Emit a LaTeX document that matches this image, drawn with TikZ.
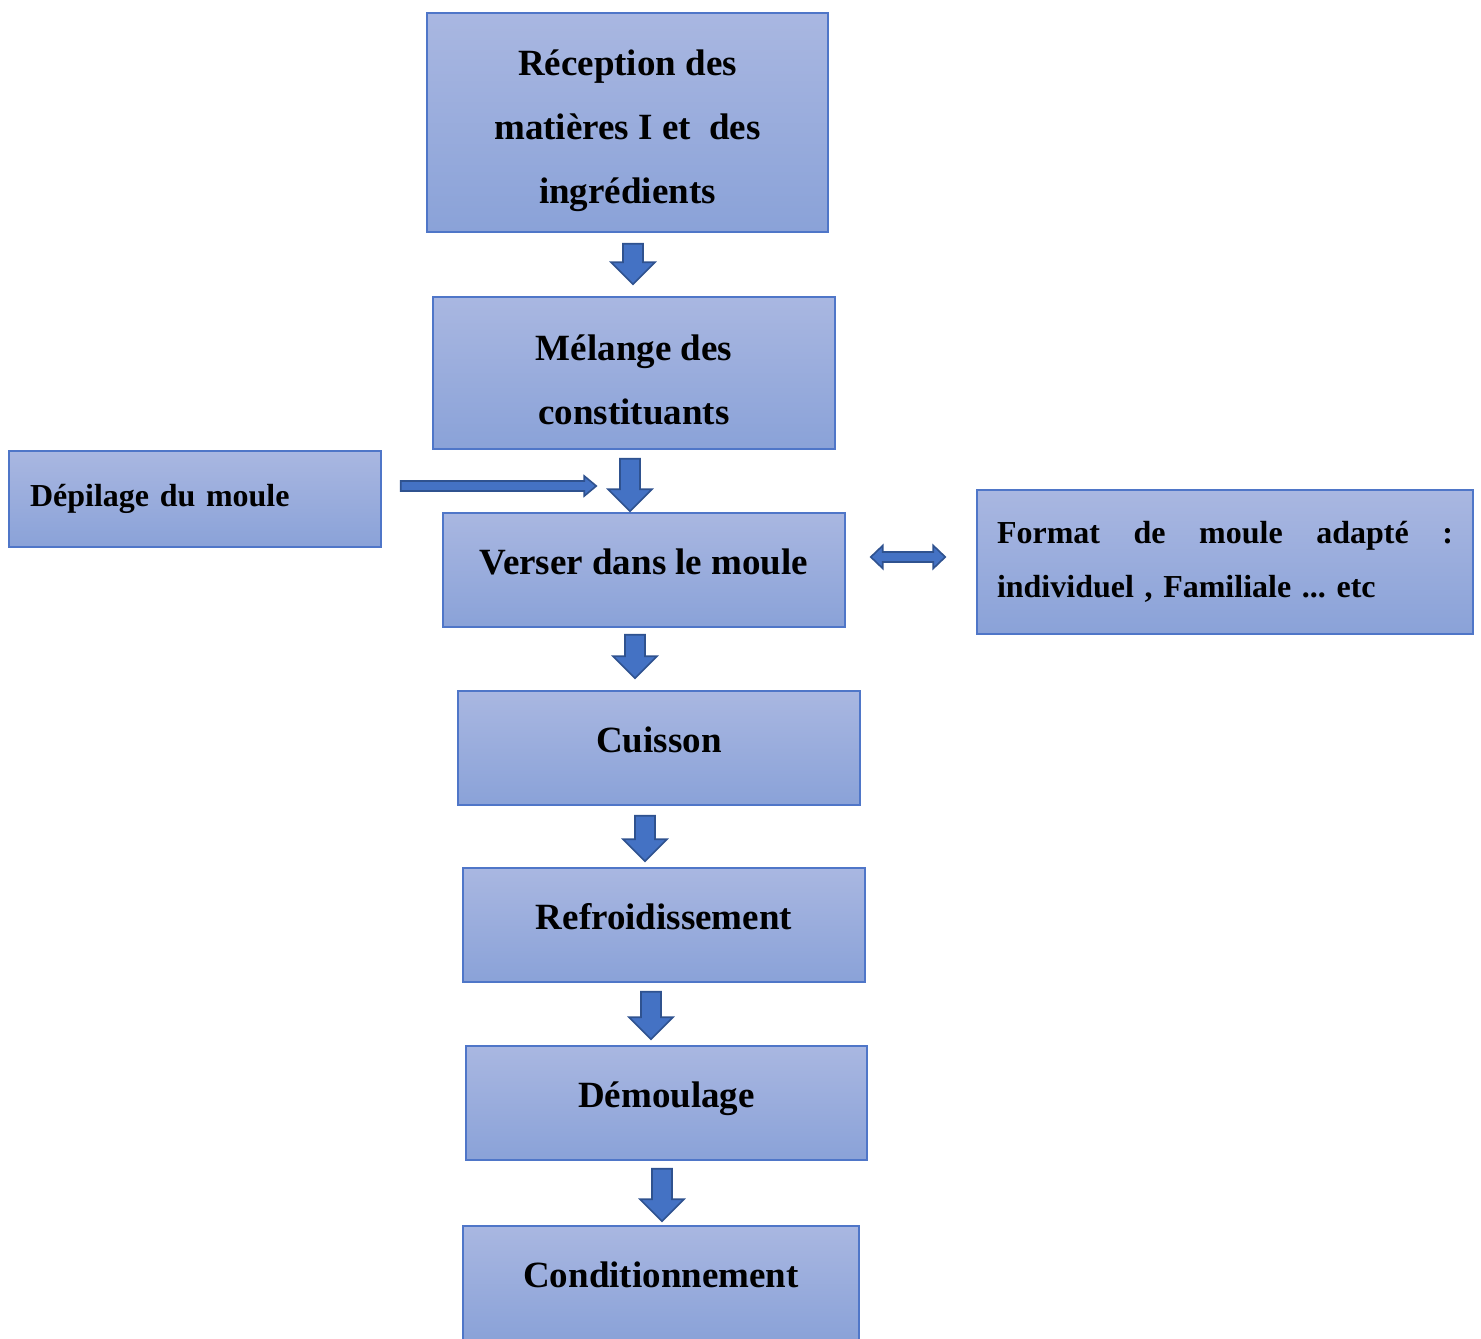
\documentclass[tikz,border=0pt]{standalone}
\usepackage{fontspec}
\setmainfont{Liberation Serif}
\usetikzlibrary{calc, positioning}

\definecolor{boxtop}{RGB}{169,183,225}
\definecolor{boxbot}{RGB}{138,162,216}
\definecolor{boxline}{RGB}{79,118,200}
\definecolor{arrfill}{RGB}{68,114,196}
\definecolor{arrline}{RGB}{47,82,143}

\begin{document}
\begin{tikzpicture}[
    proc/.style={rectangle, draw=boxline, line width=0.75pt, top color=boxtop, bottom color=boxbot,
                 minimum width=201pt, minimum height=57pt, inner sep=0pt, align=center,
                 font=\fontsize{18.5}{32}\selectfont\bfseries},
    oneline/.style={text height=13pt, text depth=9pt},
    side/.style={rectangle, draw=boxline, line width=0.75pt, top color=boxtop, bottom color=boxbot,
                 inner ysep=0pt, align=left, font=\fontsize{16}{27}\selectfont\bfseries\frenchspacing},
    downarr/.style={draw=arrline, fill=arrfill, line width=0.8pt,
        to path={let \p1=(\tikztostart), \p2=(\tikztotarget) in
          (\x1-5pt,\y1) -- (\x1+5pt,\y1) -- (\x1+5pt,\y2+11pt) -- (\x1+11pt,\y2+11pt)
          -- (\x1,\y2) -- (\x1-11pt,\y2+11pt) -- (\x1-5pt,\y2+11pt) -- cycle}},
    rightarr/.style={draw=arrline, fill=arrfill, line width=0.8pt,
        to path={let \p1=(\tikztostart), \p2=(\tikztotarget) in
          (\x1,\y1+2.5pt) -- (\x2-6pt,\y1+2.5pt) -- (\x2-6pt,\y1+5pt) -- (\x2,\y1)
          -- (\x2-6pt,\y1-5pt) -- (\x2-6pt,\y1-2.5pt) -- (\x1,\y1-2.5pt) -- cycle}},
    botharr/.style={draw=arrline, fill=arrfill, line width=0.8pt,
        to path={let \p1=(\tikztostart), \p2=(\tikztotarget) in
          (\x1,\y1) -- (\x1+6pt,\y1+5.75pt) -- (\x1+6pt,\y1+2.5pt) -- (\x2-6pt,\y1+2.5pt)
          -- (\x2-6pt,\y1+5.75pt) -- (\x2,\y1) -- (\x2-6pt,\y1-5.75pt) -- (\x2-6pt,\y1-2.5pt)
          -- (\x1+6pt,\y1-2.5pt) -- (\x1+6pt,\y1-5.75pt) -- cycle}},
]
\useasboundingbox (0,0) rectangle (740.5pt,-669pt);

% ── Main column ──
\node[proc, minimum width=200.5pt, minimum height=109.5pt] (rec) at (313.75pt,-61.25pt)
    {\rule{0pt}{21pt}Réception des\\matières I et~ des\\ingrédients};
\node[proc, minimum height=76pt, below=31.75pt of rec, xshift=3.25pt] (mel)
    {\rule{0pt}{20pt}Mélange des\\constituants};
\node[proc, oneline, below=31.25pt of mel, xshift=5pt] (ver) {Verser dans le moule};
\node[proc, oneline, below=31.25pt of ver, xshift=7.5pt] (cui) {Cuisson};
\node[proc, oneline, below=30.75pt of cui, xshift=2.5pt] (ref) {Refroidissement};
\node[proc, oneline, minimum width=200.5pt, below=31.25pt of ref, xshift=1.25pt] (dem) {Démoulage};
\node[proc, oneline, minimum width=198pt, below=32.25pt of dem, xshift=-2.75pt] (con) {Conditionnement};

% ── Side boxes ──
\node[side, text width=165pt, inner xsep=10.5pt, minimum height=48pt,
      left=30.25pt of ver, yshift=35.5pt] (dep) {Dépilage du moule};
\node[side, text width=228pt, inner xsep=10pt, minimum height=72pt,
      right=65.25pt of ver, yshift=4pt] (fmt)
    {Format\hfill de\hfill moule\hfill adapté\hfill :\\individuel , Familiale ... etc};

% ── Block arrows ──
\draw[downarr] ([xshift=2.75pt, yshift=-5.5pt]rec.south) to ([yshift=6pt]mel.north);
\draw[downarr] ([xshift=-2pt, yshift=-4.5pt]mel.south) to ([yshift=0.5pt]ver.north);
\draw[downarr] ([xshift=-4.5pt, yshift=-3.5pt]ver.south) to ([yshift=6pt]cui.north);
\draw[downarr] ([xshift=-7pt, yshift=-5pt]cui.south) to ([yshift=3pt]ref.north);
\draw[downarr] ([xshift=-6.5pt, yshift=-4.5pt]ref.south) to ([yshift=3pt]dem.north);
\draw[downarr] ([xshift=-2.25pt, yshift=-4pt]dem.south) to ([yshift=2pt]con.north);

\draw[rightarr] ([xshift=9.5pt, yshift=6.5pt]dep.east) to ([xshift=77pt, yshift=13.5pt]ver.north west);
\draw[botharr] ([xshift=12.5pt, yshift=6.5pt]ver.east) to ([xshift=-15.5pt]fmt.west);

\end{tikzpicture}
\end{document}
